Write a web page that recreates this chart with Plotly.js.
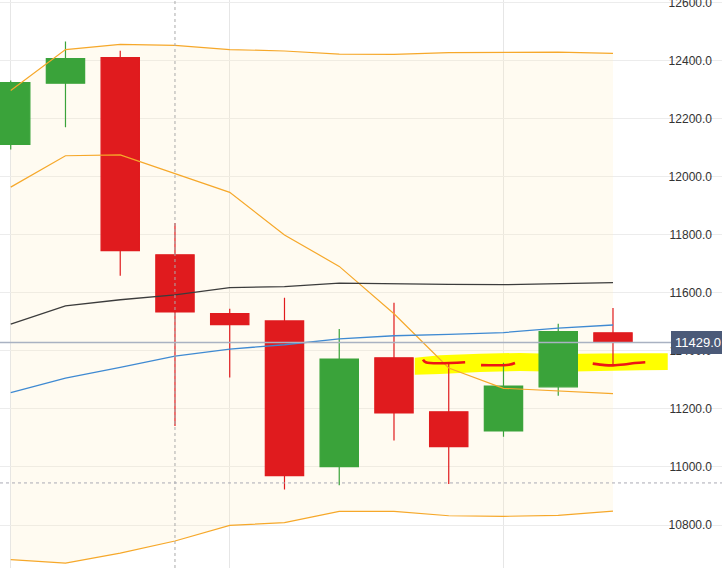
<!DOCTYPE html>
<html>
<head>
<meta charset="utf-8">
<script src="https://cdn.plot.ly/plotly-3.0.1.min.js"></script>
<style>
  html, body { margin: 0; padding: 0; background: #fff; }
  #chart { width: 722px; height: 568px; }
</style>
</head>
<body>
<div id="chart"></div>
<script>
// weekly bars, index position on the x axis
const weeks = [0, 1, 2, 3, 4, 5, 6, 7, 8, 9, 10, 11];
const openPx  = [12111, 12322, 12410, 11731, 11528, 11503, 11001, 11376, 11190, 11124, 11276, 11462];
const highPx  = [12331, 12466, 12434, 11840, 11545, 11583, 11475, 11566, 11356, 11359, 11493, 11548];
const lowPx   = [12094, 12170, 11659, 11141, 11308, 10922, 10937, 11091, 10941, 11104, 11245, 11348];
const closePx = [12324, 12407, 11745, 11534, 11490, 10970, 11372, 11186, 11070, 11279, 11466, 11429];

// indicator lines
const bandUpper = [12297, 12438, 12456, 12452, 12438, 12433, 12422, 12421, 12427, 12428, 12429, 12425];
const bandLower = [10681, 10669, 10703, 10745, 10799, 10808, 10847, 10847, 10832, 10830, 10833, 10848];
const fastLine  = [11964, 12072, 12075, 12010, 11946, 11799, 11691, 11528, 11341, 11271, 11262, 11253];
const slowLine  = [11492, 11555, 11576, 11593, 11618, 11621, 11633, 11630, 11629, 11628, 11631, 11635];
const blueLine  = [11256, 11306, 11343, 11382, 11406, 11421, 11441, 11452, 11457, 11463, 11478, 11489];

const lastPrice = 11429;
const crossX = 3;
const crossY = 10945;
const gridWeeks = [0, 4, 9];

// hand-drawn marks (yellow marker + red strokes)
const markerX = [7.38, 7.84, 8.57, 9.30, 10.03, 10.76, 11.49, 12.0, 12.0, 11.49, 10.76, 10.03, 9.30, 8.57, 7.84, 7.38];
const markerY = [11376, 11385, 11390, 11393, 11389, 11391, 11392, 11392, 11334, 11333, 11331, 11328, 11331, 11327, 11320, 11318];
const strokes = [
  { x: [7.53, 7.58, 8.30], y: [11370, 11361, 11361] },
  { x: [8.59, 9.10, 9.21], y: [11351, 11352, 11358] },
  { x: [10.63, 10.85, 11.0, 11.2, 11.4, 11.59], y: [11356, 11351, 11350, 11353, 11358, 11361] }
];

const ORANGE = '#f6a82a';

const toPath = (xs, ys) => xs.map((x, i) => (i ? 'L' : 'M') + x + ',' + ys[i]).join(' ') + ' Z';

// band area: upper edge left to right, lower edge back
const bandPath = toPath(
  weeks.concat(weeks.slice().reverse()),
  bandUpper.concat(bandLower.slice().reverse())
);
const markerPath = toPath(markerX, markerY);

const data = [
  {
    type: 'candlestick',
    x: weeks, open: openPx, high: highPx, low: lowPx, close: closePx,
    increasing: { line: { color: '#3aa33a', width: 1.2 }, fillcolor: '#3aa33a' },
    decreasing: { line: { color: '#e01b1e', width: 1.2 }, fillcolor: '#e01b1e' },
    whiskerwidth: 0,
    hoverinfo: 'skip'
  },
  {
    type: 'scatter', mode: 'lines', x: weeks, y: bandLower,
    line: { color: ORANGE, width: 1.2 }, hoverinfo: 'skip'
  },
  {
    type: 'scatter', mode: 'lines', x: weeks, y: bandUpper,
    line: { color: ORANGE, width: 1.2 }, hoverinfo: 'skip'
  },
  {
    type: 'scatter', mode: 'lines', x: weeks, y: fastLine,
    line: { color: ORANGE, width: 1.2 }, hoverinfo: 'skip'
  },
  {
    type: 'scatter', mode: 'lines', x: weeks, y: slowLine,
    line: { color: '#3c3c3c', width: 1.3 }, hoverinfo: 'skip'
  },
  {
    type: 'scatter', mode: 'lines', x: weeks, y: blueLine,
    line: { color: '#3f8ad2', width: 1.3 }, hoverinfo: 'skip'
  }
];

strokes.forEach((s) => {
  data.push({
    type: 'scatter', mode: 'lines', x: s.x, y: s.y,
    line: { color: '#ee1515', width: 2.6, shape: 'spline' }, hoverinfo: 'skip'
  });
});

const layout = {
  width: 722,
  height: 568,
  margin: { l: 0, r: 0, t: 0, b: 0 },
  paper_bgcolor: '#ffffff',
  plot_bgcolor: '#ffffff',
  showlegend: false,
  hovermode: false,
  boxgap: 0.3,
  boxgroupgap: 0,
  xaxis: {
    range: [-0.196, 12.991],
    tickvals: gridWeeks,
    showticklabels: false,
    ticks: '',
    showgrid: true,
    gridcolor: '#e6e6e6',
    zeroline: false,
    showline: false,
    rangeslider: { visible: false },
    fixedrange: true
  },
  yaxis: {
    range: [10652, 12608.6],
    side: 'right',
    dtick: 200,
    tick0: 10800,
    tickformat: '.1f',
    ticks: '',
    ticklabelposition: 'inside',
    ticklabeloverflow: 'allow',
    ticklabelstandoff: 7,
    tickfont: { family: 'Liberation Sans, Arial, sans-serif', size: 12, color: '#333333' },
    showgrid: true,
    gridcolor: '#ececec',
    zeroline: false,
    showline: false,
    fixedrange: true
  },
  shapes: [
    {
      type: 'path', xref: 'x', yref: 'y', path: bandPath,
      fillcolor: 'rgba(255, 236, 190, 0.22)', line: { width: 0 }, layer: 'between'
    },
    {
      type: 'path', xref: 'x', yref: 'y', path: markerPath,
      fillcolor: '#ffff00', line: { width: 0 }, layer: 'between'
    },
    {
      type: 'line', xref: 'x', yref: 'paper', x0: crossX, x1: crossX, y0: 0, y1: 1,
      line: { color: '#aaaaaa', width: 1, dash: '3px,3px' }
    },
    {
      type: 'line', xref: 'paper', yref: 'y', x0: 0, x1: 1, y0: crossY, y1: crossY,
      line: { color: '#aaaab4', width: 1, dash: '3px,3px' }
    },
    {
      type: 'line', xref: 'paper', yref: 'y', x0: 0, x1: 0.93, y0: lastPrice, y1: lastPrice,
      line: { color: '#a9b2c2', width: 1.5 }
    }
  ],
  annotations: [
    {
      xref: 'paper', yref: 'y', x: 1, y: lastPrice,
      xanchor: 'right', yanchor: 'middle', xshift: 3,
      text: lastPrice.toFixed(1), showarrow: false,
      bgcolor: '#4b5a78', bordercolor: '#4b5a78', borderpad: 3, borderwidth: 1,
      font: { family: 'Liberation Sans, Arial, sans-serif', size: 13, color: '#ffffff' }
    }
  ]
};

Plotly.newPlot('chart', data, layout, { displayModeBar: false, staticPlot: true });
</script>
</body>
</html>
